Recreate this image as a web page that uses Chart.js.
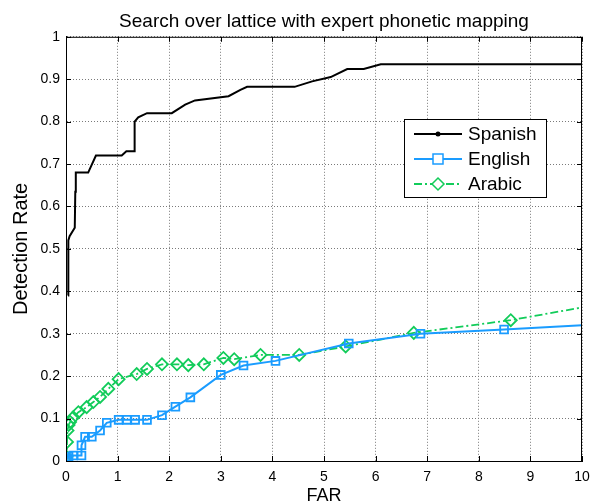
<!DOCTYPE html>
<html>
<head>
<meta charset="utf-8">
<script src="https://cdn.jsdelivr.net/npm/chart.js@4/dist/chart.umd.min.js"></script>
<style>
  html, body { margin: 0; padding: 0; background: #ffffff; }
  #wrap { width: 590px; height: 503px; }
</style>
</head>
<body>
<div id="wrap"><canvas id="myChart" width="590" height="503"></canvas></div>
<script>
// data
const spanishX = [0.04, 0.04, 0.05, 0.07, 0.17, 0.18, 0.19, 0.43, 0.58, 1.08, 1.17, 1.33, 1.33, 1.40, 1.57, 2.05, 2.31, 2.50, 3.15, 3.38, 3.51, 4.43, 4.77, 5.13, 5.45, 5.77, 6.10, 10];
const spanishY = [0.39, 0.50, 0.52, 0.53, 0.55, 0.635, 0.68, 0.68, 0.72, 0.72, 0.73, 0.73, 0.80, 0.81, 0.82, 0.82, 0.84, 0.85, 0.86, 0.875, 0.882, 0.882, 0.895, 0.905, 0.924, 0.924, 0.935, 0.935];

const englishX = [0, 0.02, 0.05, 0.14, 0.3, 0.3, 0.37, 0.5, 0.66, 0.79, 1.02, 1.18, 1.34, 1.57, 1.86, 2.12, 2.41, 3.0, 3.44, 4.06, 5.48, 6.87, 8.49, 10];
const englishY = [0, 0.005, 0.01, 0.013, 0.013, 0.037, 0.057, 0.057, 0.072, 0.09, 0.097, 0.097, 0.097, 0.097, 0.108, 0.128, 0.15, 0.203, 0.225, 0.236, 0.277, 0.30, 0.31, 0.32];

const arabicX = [0, 0.01, 0.02, 0.03, 0.05, 0.08, 0.14, 0.24, 0.40, 0.53, 0.66, 0.82, 1.02, 1.37, 1.57, 1.86, 2.15, 2.37, 2.67, 3.05, 3.26, 3.77, 4.52, 5.42, 6.74, 8.62, 10];
const arabicY = [0, 0.01, 0.045, 0.072, 0.085, 0.092, 0.103, 0.115, 0.127, 0.139, 0.151, 0.17, 0.193, 0.205, 0.217, 0.228, 0.228, 0.226, 0.228, 0.243, 0.24, 0.25, 0.25, 0.27, 0.302, 0.332, 0.362];

const seriesNames = ["Spanish", "English", "Arabic"];
const xTicks = [0, 1, 2, 3, 4, 5, 6, 7, 8, 9, 10];
const yTicks = [0, 0.1, 0.2, 0.3, 0.4, 0.5, 0.6, 0.7, 0.8, 0.9, 1];

const FONT = 'Arial, "Liberation Sans", sans-serif';
const BLUE = "#1a9cff";
const GREEN = "#12cc5a";

function toPoints(xs, ys) {
  return xs.map((x, i) => ({ x: x, y: ys[i] }));
}

// hide the marker of the last point (it sits on the right edge)
function lastHidden(r) {
  return (c) => (c.dataIndex === c.dataset.data.length - 1 ? 0 : r);
}

// box, inward ticks and legend, matlab style
const matlabFrame = {
  id: "matlabFrame",
  afterDraw(chart) {
    const ctx = chart.ctx;
    const a = chart.chartArea;
    const xs = chart.scales.x;
    const ys = chart.scales.y;
    ctx.save();
    ctx.strokeStyle = "#000";
    ctx.lineWidth = 1;
    ctx.strokeRect(a.left + 0.5, a.top + 0.5, a.right - a.left - 1, a.bottom - a.top);
    ctx.beginPath();
    xTicks.forEach((t) => {
      const px = Math.round(xs.getPixelForValue(t)) + 0.5;
      ctx.moveTo(px, a.bottom); ctx.lineTo(px, a.bottom - 5);
      ctx.moveTo(px, a.top); ctx.lineTo(px, a.top + 5);
    });
    yTicks.forEach((t) => {
      const py = Math.round(ys.getPixelForValue(t)) + 0.5;
      ctx.moveTo(a.left, py); ctx.lineTo(a.left + 5, py);
      ctx.moveTo(a.right, py); ctx.lineTo(a.right - 5, py);
    });
    ctx.stroke();

    // legend box
    const lx = 404, ly = 119, lw = 142, lh = 78;
    ctx.fillStyle = "#fff";
    ctx.fillRect(lx, ly, lw, lh);
    ctx.strokeStyle = "#000";
    ctx.strokeRect(lx + 0.5, ly + 0.5, lw, lh);
    ctx.font = "19px " + FONT;
    ctx.textBaseline = "middle";
    const rows = [134, 159, 184];
    chart.data.datasets.forEach((ds, i) => {
      const y = rows[i];
      ctx.strokeStyle = ds.borderColor;
      ctx.lineWidth = 2;
      ctx.setLineDash(ds.borderDash || []);
      ctx.beginPath();
      ctx.moveTo(414, y); ctx.lineTo(462, y);
      ctx.stroke();
      ctx.setLineDash([]);
      ctx.lineWidth = 1.5;
      const cx = 438;
      if (i === 0) {
        ctx.fillStyle = ds.borderColor;
        ctx.beginPath(); ctx.arc(cx, y, 2.5, 0, Math.PI * 2); ctx.fill();
      } else if (i === 1) {
        ctx.fillStyle = "#fff";
        ctx.fillRect(cx - 5, y - 5, 10, 10);
        ctx.strokeRect(cx - 5, y - 5, 10, 10);
      } else {
        ctx.fillStyle = "#fff";
        ctx.beginPath();
        ctx.moveTo(cx, y - 6); ctx.lineTo(cx + 6, y); ctx.lineTo(cx, y + 6); ctx.lineTo(cx - 6, y);
        ctx.closePath(); ctx.fill(); ctx.stroke();
      }
      ctx.fillStyle = "#000";
      ctx.fillText(ds.label, 468, y + 1);
    });
    ctx.restore();
  },
};

const ctx = document.getElementById("myChart").getContext("2d");

const myChart = new Chart(ctx, {
  type: "line",
  data: {
    datasets: [
      {
        label: seriesNames[0],
        data: toPoints(spanishX, spanishY),
        borderColor: "#000000",
        borderWidth: 2,
        pointRadius: 0,
        tension: 0,
        order: 3,
      },
      {
        label: seriesNames[1],
        data: toPoints(englishX, englishY),
        borderColor: BLUE,
        backgroundColor: "rgba(0,0,0,0)",
        borderWidth: 2,
        pointStyle: "rect",
        pointRadius: lastHidden(5.5),
        pointBorderWidth: 1.8,
        pointBorderColor: BLUE,
        pointBackgroundColor: "rgba(0,0,0,0)",
        tension: 0,
        order: 1,
      },
      {
        label: seriesNames[2],
        data: toPoints(arabicX, arabicY),
        borderColor: GREEN,
        backgroundColor: "rgba(0,0,0,0)",
        borderWidth: 1.8,
        borderDash: [8, 3, 2, 3],
        pointStyle: "rectRot",
        pointRadius: lastHidden(6),
        pointBorderWidth: 1.8,
        pointBorderColor: GREEN,
        pointBackgroundColor: "rgba(0,0,0,0)",
        tension: 0,
        order: 2,
      },
    ],
  },
  options: {
    animation: { duration: 0 },
    responsive: false,
    layout: { padding: { right: 0, left: 0, bottom: 0, top: 0 } },
    scales: {
      x: {
        type: "linear",
        min: 0,
        max: 10,
        afterFit: (s) => { s.height = 42; s.paddingRight = 8; s.paddingLeft = 0; },
        afterBuildTicks: (s) => { s.ticks = xTicks.map((v) => ({ value: v })); },
        ticks: {
          color: "#000",
          font: { size: 14, family: FONT },
          padding: 8,
          maxRotation: 0,
          callback: (v) => String(v),
        },
        grid: { color: "#7a7a7a", lineWidth: 1, drawTicks: false },
        border: { display: true, color: "#000", dash: [1, 2] },
        title: {
          display: true,
          text: "FAR",
          color: "#000",
          font: { size: 18, family: FONT },
          padding: { top: 0, bottom: -4 },
        },
      },
      y: {
        type: "linear",
        min: 0,
        max: 1,
        afterFit: (s) => { s.width = 66; },
        afterBuildTicks: (s) => { s.ticks = yTicks.map((v) => ({ value: v })); },
        ticks: {
          color: "#000",
          font: { size: 14, family: FONT },
          padding: 6,
          callback: (v) => String(Math.round(v * 10) / 10),
        },
        grid: { color: "#7a7a7a", lineWidth: 1, drawTicks: false },
        border: { display: true, color: "#000", dash: [1, 2] },
        title: {
          display: true,
          text: "Detection Rate",
          color: "#000",
          font: { size: 20, family: FONT },
          padding: { top: 9, bottom: 0 },
        },
      },
    },
    plugins: {
      legend: { display: false },
      tooltip: { enabled: false },
      title: {
        display: true,
        fullSize: false,
        text: "Search over lattice with expert phonetic mapping",
        color: "#000",
        font: { size: 19, family: FONT, weight: "normal" },
        padding: { top: 10, bottom: 4 },
      },
    },
  },
  plugins: [matlabFrame],
});
</script>
</body>
</html>
